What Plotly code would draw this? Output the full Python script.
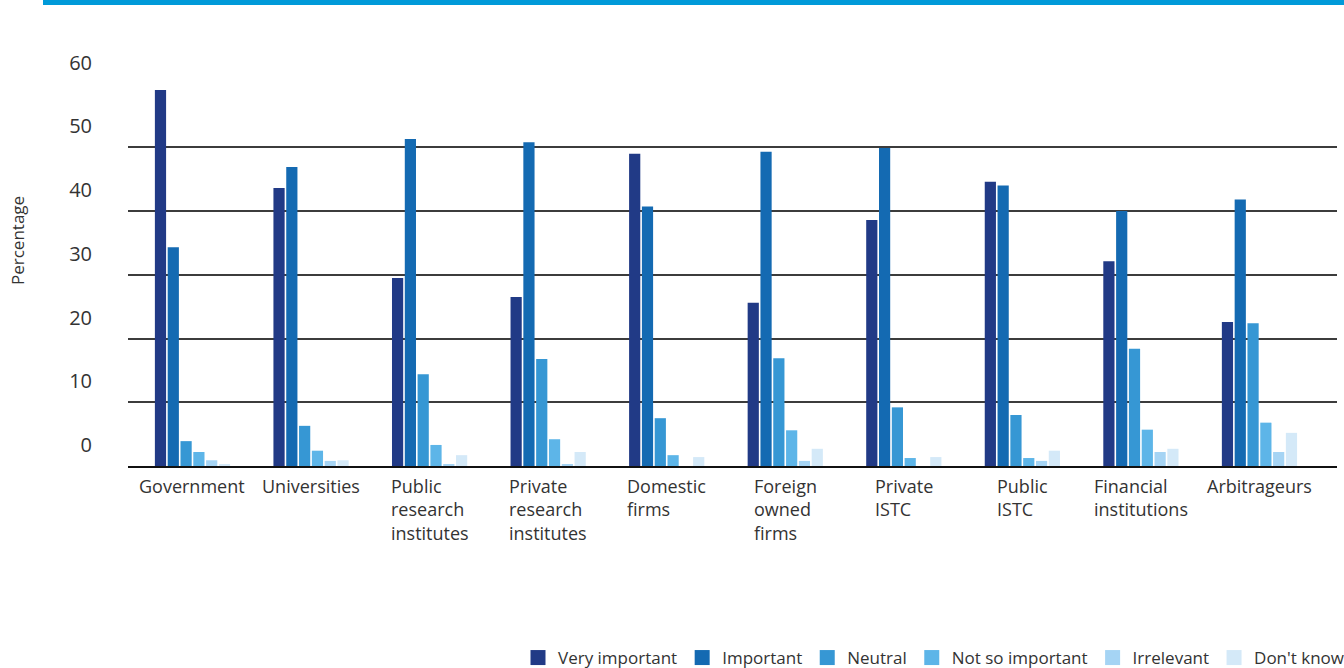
import plotly.graph_objects as go

categories = ["Government", "Universities", "Public research institutes",
              "Private research institutes", "Domestic firms", "Foreign owned firms",
              "Private ISTC", "Public ISTC", "Financial institutions", "Arbitrageurs"]
tick_labels = ["Government", "Universities", "Public<br>research<br>institutes",
               "Private<br>research<br>institutes", "Domestic<br>firms",
               "Foreign<br>owned<br>firms", "Private<br>ISTC", "Public<br>ISTC",
               "Financial<br>institutions", "Arbitrageurs"]

series_names = ["Very important", "Important", "Neutral", "Not so important",
                "Irrelevant", "Don't know"]
very_important = [59.0, 43.6, 29.5, 26.5, 49.0, 25.6, 38.6, 44.6, 32.1, 22.6]
important      = [34.3, 46.9, 51.3, 50.8, 40.7, 49.3, 49.9, 44.0, 40.0, 41.8]
neutral        = [3.9, 6.3, 14.4, 16.8, 7.5, 16.9, 9.2, 8.0, 18.4, 22.4]
not_so_imp     = [2.2, 2.4, 3.3, 4.2, 1.7, 5.6, 1.25, 1.25, 5.7, 6.8]
irrelevant     = [0.9, 0.8, 0.3, 0.3, 0.0, 0.8, 0.0, 0.8, 2.2, 2.2]
dont_know      = [0.3, 0.9, 1.7, 2.2, 1.4, 2.7, 1.4, 2.4, 2.7, 5.2]
series_values = [very_important, important, neutral, not_so_imp, irrelevant, dont_know]
colors = ["#213a86", "#146ab2", "#3697d4", "#5db5e8", "#a5d4f4", "#d4e9f8"]

y_ticks = [0, 10, 20, 30, 40, 50, 60]
grid_vals = [10, 20, 30, 40, 50]

FONT = "Open Sans"
TXT = "#333333"

fig = go.Figure()
for name, vals, col in zip(series_names, series_values, colors):
    fig.add_trace(go.Bar(x=categories, y=vals, name=name, marker_color=col,
                         marker_line_width=0, legendgroup=name, showlegend=False))
# legend entries (square swatches) for each series
for name, col in zip(series_names, colors):
    fig.add_trace(go.Scatter(x=[None], y=[None], mode="markers", name=name,
                             legendgroup=name,
                             marker=dict(symbol="square", size=15, color=col),
                             hoverinfo="skip"))
# carrier for the tick-label axis
fig.add_trace(go.Scatter(x=[categories[0]], y=[None], yaxis="y2", mode="markers",
                         showlegend=False, hoverinfo="skip"))

# plot area: left 128, right 1337, top 58, bottom 466
PL, PR, PT, PB = 128, 1337, 58, 466
PW, PH = PR - PL, PB - PT

def px_x(px):
    return (px - PL) / PW

def px_y(py):
    return (PB - py) / PH

annotations = []
for i, lab in enumerate(tick_labels):
    annotations.append(dict(x=categories[i], xref="x", y=0, yref="paper",
                            text=lab, showarrow=False, xanchor="center",
                            yanchor="top", align="left", yshift=-6,
                            font=dict(family=FONT, size=18, color=TXT)))
annotations.append(dict(x=px_x(17), xref="paper", y=px_y(240), yref="paper",
                        text="Percentage", textangle=-90, showarrow=False,
                        xanchor="center", yanchor="middle",
                        font=dict(family=FONT, size=17, color=TXT)))

shift = 21 / (PH / 64.0)

fig.update_layout(
    width=1344, height=668,
    margin=dict(l=PL, r=1344 - PR, t=PT, b=668 - PB, pad=0, autoexpand=False),
    paper_bgcolor="white", plot_bgcolor="white",
    barmode="group", bargap=0.352, bargroupgap=0.125,
    font=dict(family=FONT, color=TXT),
    xaxis=dict(type="category", range=[-0.544, 9.654], showticklabels=False,
               showgrid=False, ticks="", showline=True, linecolor="#111111",
               linewidth=2, fixedrange=True),
    yaxis=dict(range=[0, 64], tickvals=grid_vals, showticklabels=False,
               showgrid=True, gridcolor="#3c3c3c", gridwidth=1.6,
               zeroline=False, ticks="", showline=False),
    yaxis2=dict(overlaying="y", side="left", range=[0 - shift, 64 - shift],
                tickvals=y_ticks, ticktext=[str(v) for v in y_ticks],
                showgrid=False, zeroline=False, showline=False, ticks="",
                ticklabelstandoff=35,
                tickfont=dict(family=FONT, size=20, color=TXT)),
    legend=dict(orientation="h", x=px_x(1350), xanchor="right",
                y=px_y(658), yanchor="middle", traceorder="normal",
                font=dict(family=FONT, size=17, color=TXT),
                itemwidth=30, tracegroupgap=0, bgcolor="rgba(0,0,0,0)",
                itemclick=False, itemdoubleclick=False),
    annotations=annotations,
    shapes=[dict(type="rect", xref="paper", yref="paper",
                 x0=px_x(43), x1=px_x(1350), y0=px_y(5), y1=px_y(-2),
                 fillcolor="#009ad9", line=dict(width=0), layer="above")],
    showlegend=True,
)

fig.write_html("out.html")
